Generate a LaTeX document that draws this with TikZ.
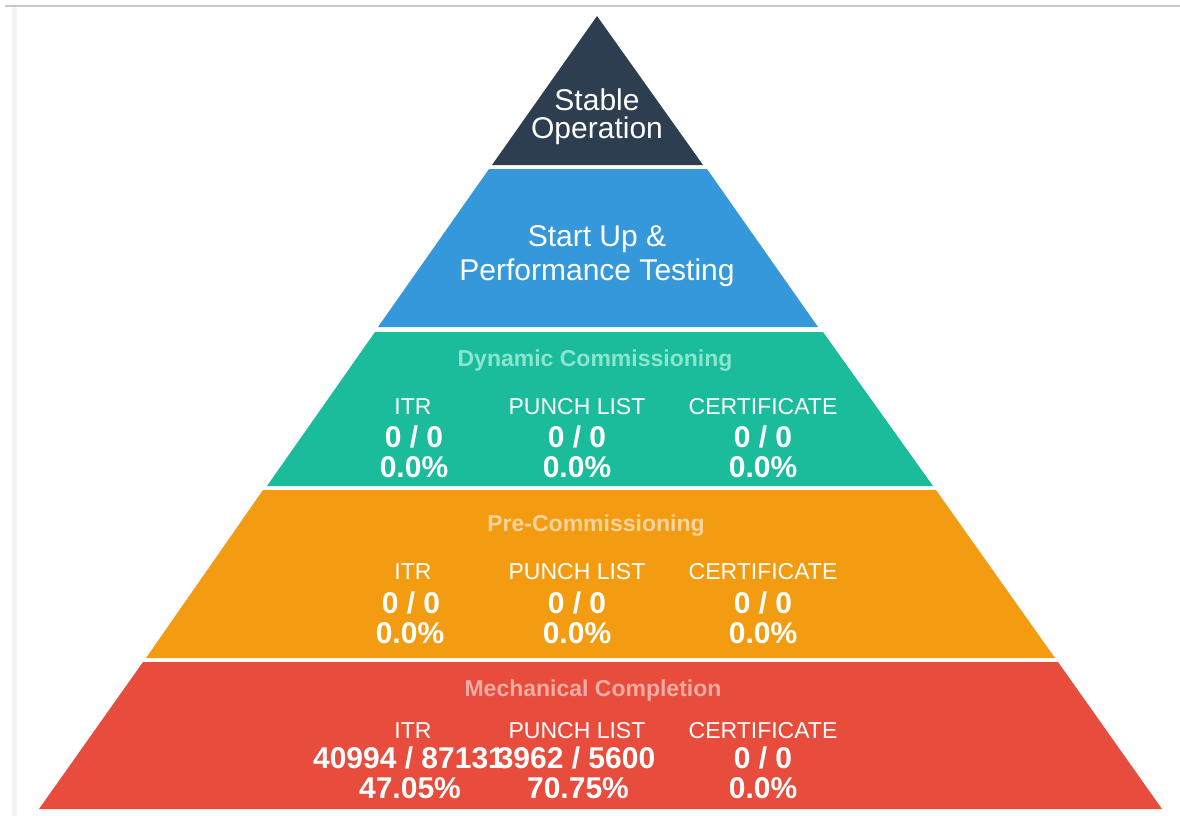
\documentclass[tikz,border=0pt]{standalone}
\usepackage{fontspec}
\setmainfont{Liberation Sans}
\definecolor{cDark}{HTML}{2C3E50}
\definecolor{cBlue}{HTML}{3498DB}
\definecolor{cTeal}{HTML}{1ABC9C}
\definecolor{cOrange}{HTML}{F39C12}
\definecolor{cRed}{HTML}{E74C3C}
\definecolor{tTeal}{HTML}{8AE6CE}
\definecolor{tOrange}{HTML}{F9D49C}
\definecolor{tRed}{HTML}{F4ACA4}
\definecolor{edgeGray}{HTML}{C8C8C8}
\definecolor{faintGray}{HTML}{F4F4F4}
\begin{document}
\begin{tikzpicture}[x=1pt,y=-1pt,
  txt/.style={text=white,inner sep=0pt,anchor=base},
  bigtxt/.style={txt,font=\fontsize{30}{30}\selectfont},
  ttl/.style={inner sep=0pt,anchor=base,font=\bfseries\fontsize{23}{23}\selectfont},
  lab/.style={txt,font=\fontsize{23}{23}\selectfont},
  num/.style={txt,font=\bfseries\fontsize{30}{30}\selectfont}]
\useasboundingbox (0,0) rectangle (1180,816);
\fill[white] (0,0) rectangle (1180,816);
\fill[edgeGray] (5,5.5) rectangle (1180,7.5);
\fill[faintGray] (12,7.5) rectangle (17,816);
% layers
\fill[cDark] (597,16) -- (703,165) -- (492,165) -- cycle;
\fill[cBlue] (489,169) -- (707,169) -- (818,327) -- (378,327) -- cycle;
\fill[cTeal] (375,332) -- (823,332) -- (933,486) -- (267,486) -- cycle;
\fill[cOrange] (263,490) -- (936,490) -- (1055,658) -- (146,658) -- cycle;
\fill[cRed] (143,662) -- (1058,662) -- (1162,809) -- (39,809) -- cycle;
% top
\node[bigtxt] (so1) at (597,110) {Stable};
\node[bigtxt] (so2) at (597,138) {Operation};
% blue
\node[bigtxt] (su1) at (597,246) {Start Up \&};
\node[bigtxt] (su2) at (597,280) {Performance Testing};
% teal
\node[ttl,text=tTeal] (dcT) at (595,366.5) {Dynamic Commissioning};
\node[lab] (dcL1) at (413,414) {ITR};
\node[lab] (dcL2) at (577,414) {PUNCH LIST};
\node[lab] (dcL3) at (763,414) {CERTIFICATE};
\node[num] (dcN1) at (414,447.5) {0 / 0};
\node[num] (dcN2) at (577,447.5) {0 / 0};
\node[num] (dcN3) at (763,447.5) {0 / 0};
\node[num] (dcP1) at (414,477.5) {0.0\%};
\node[num] (dcP2) at (577,477.5) {0.0\%};
\node[num] (dcP3) at (763,477.5) {0.0\%};
% orange
\node[ttl,text=tOrange] (pcT) at (596,531.5) {Pre-Commissioning};
\node[lab] (pcL1) at (413,579) {ITR};
\node[lab] (pcL2) at (577,579) {PUNCH LIST};
\node[lab] (pcL3) at (763,579) {CERTIFICATE};
\node[num] (pcN1) at (411,613.5) {0 / 0};
\node[num] (pcN2) at (577,613.5) {0 / 0};
\node[num] (pcN3) at (763,613.5) {0 / 0};
\node[num] (pcP1) at (410,643.5) {0.0\%};
\node[num] (pcP2) at (577,643.5) {0.0\%};
\node[num] (pcP3) at (763,643.5) {0.0\%};
% red
\node[ttl,text=tRed] (mcT) at (593,696.5) {Mechanical Completion};
\node[lab] (mcL1) at (413,738) {ITR};
\node[lab] (mcL2) at (577,738) {PUNCH LIST};
\node[lab] (mcL3) at (763,738) {CERTIFICATE};
\node[num] (mcN1) at (409,768.5) {40994 / 87131};
\node[num] (mcN2) at (576,768.5) {3962 / 5600};
\node[num] (mcN3) at (763,768.5) {0 / 0};
\node[num] (mcP1) at (410,798.5) {47.05\%};
\node[num] (mcP2) at (578,798.5) {70.75\%};
\node[num] (mcP3) at (763,798.5) {0.0\%};
\end{tikzpicture}
\end{document}
